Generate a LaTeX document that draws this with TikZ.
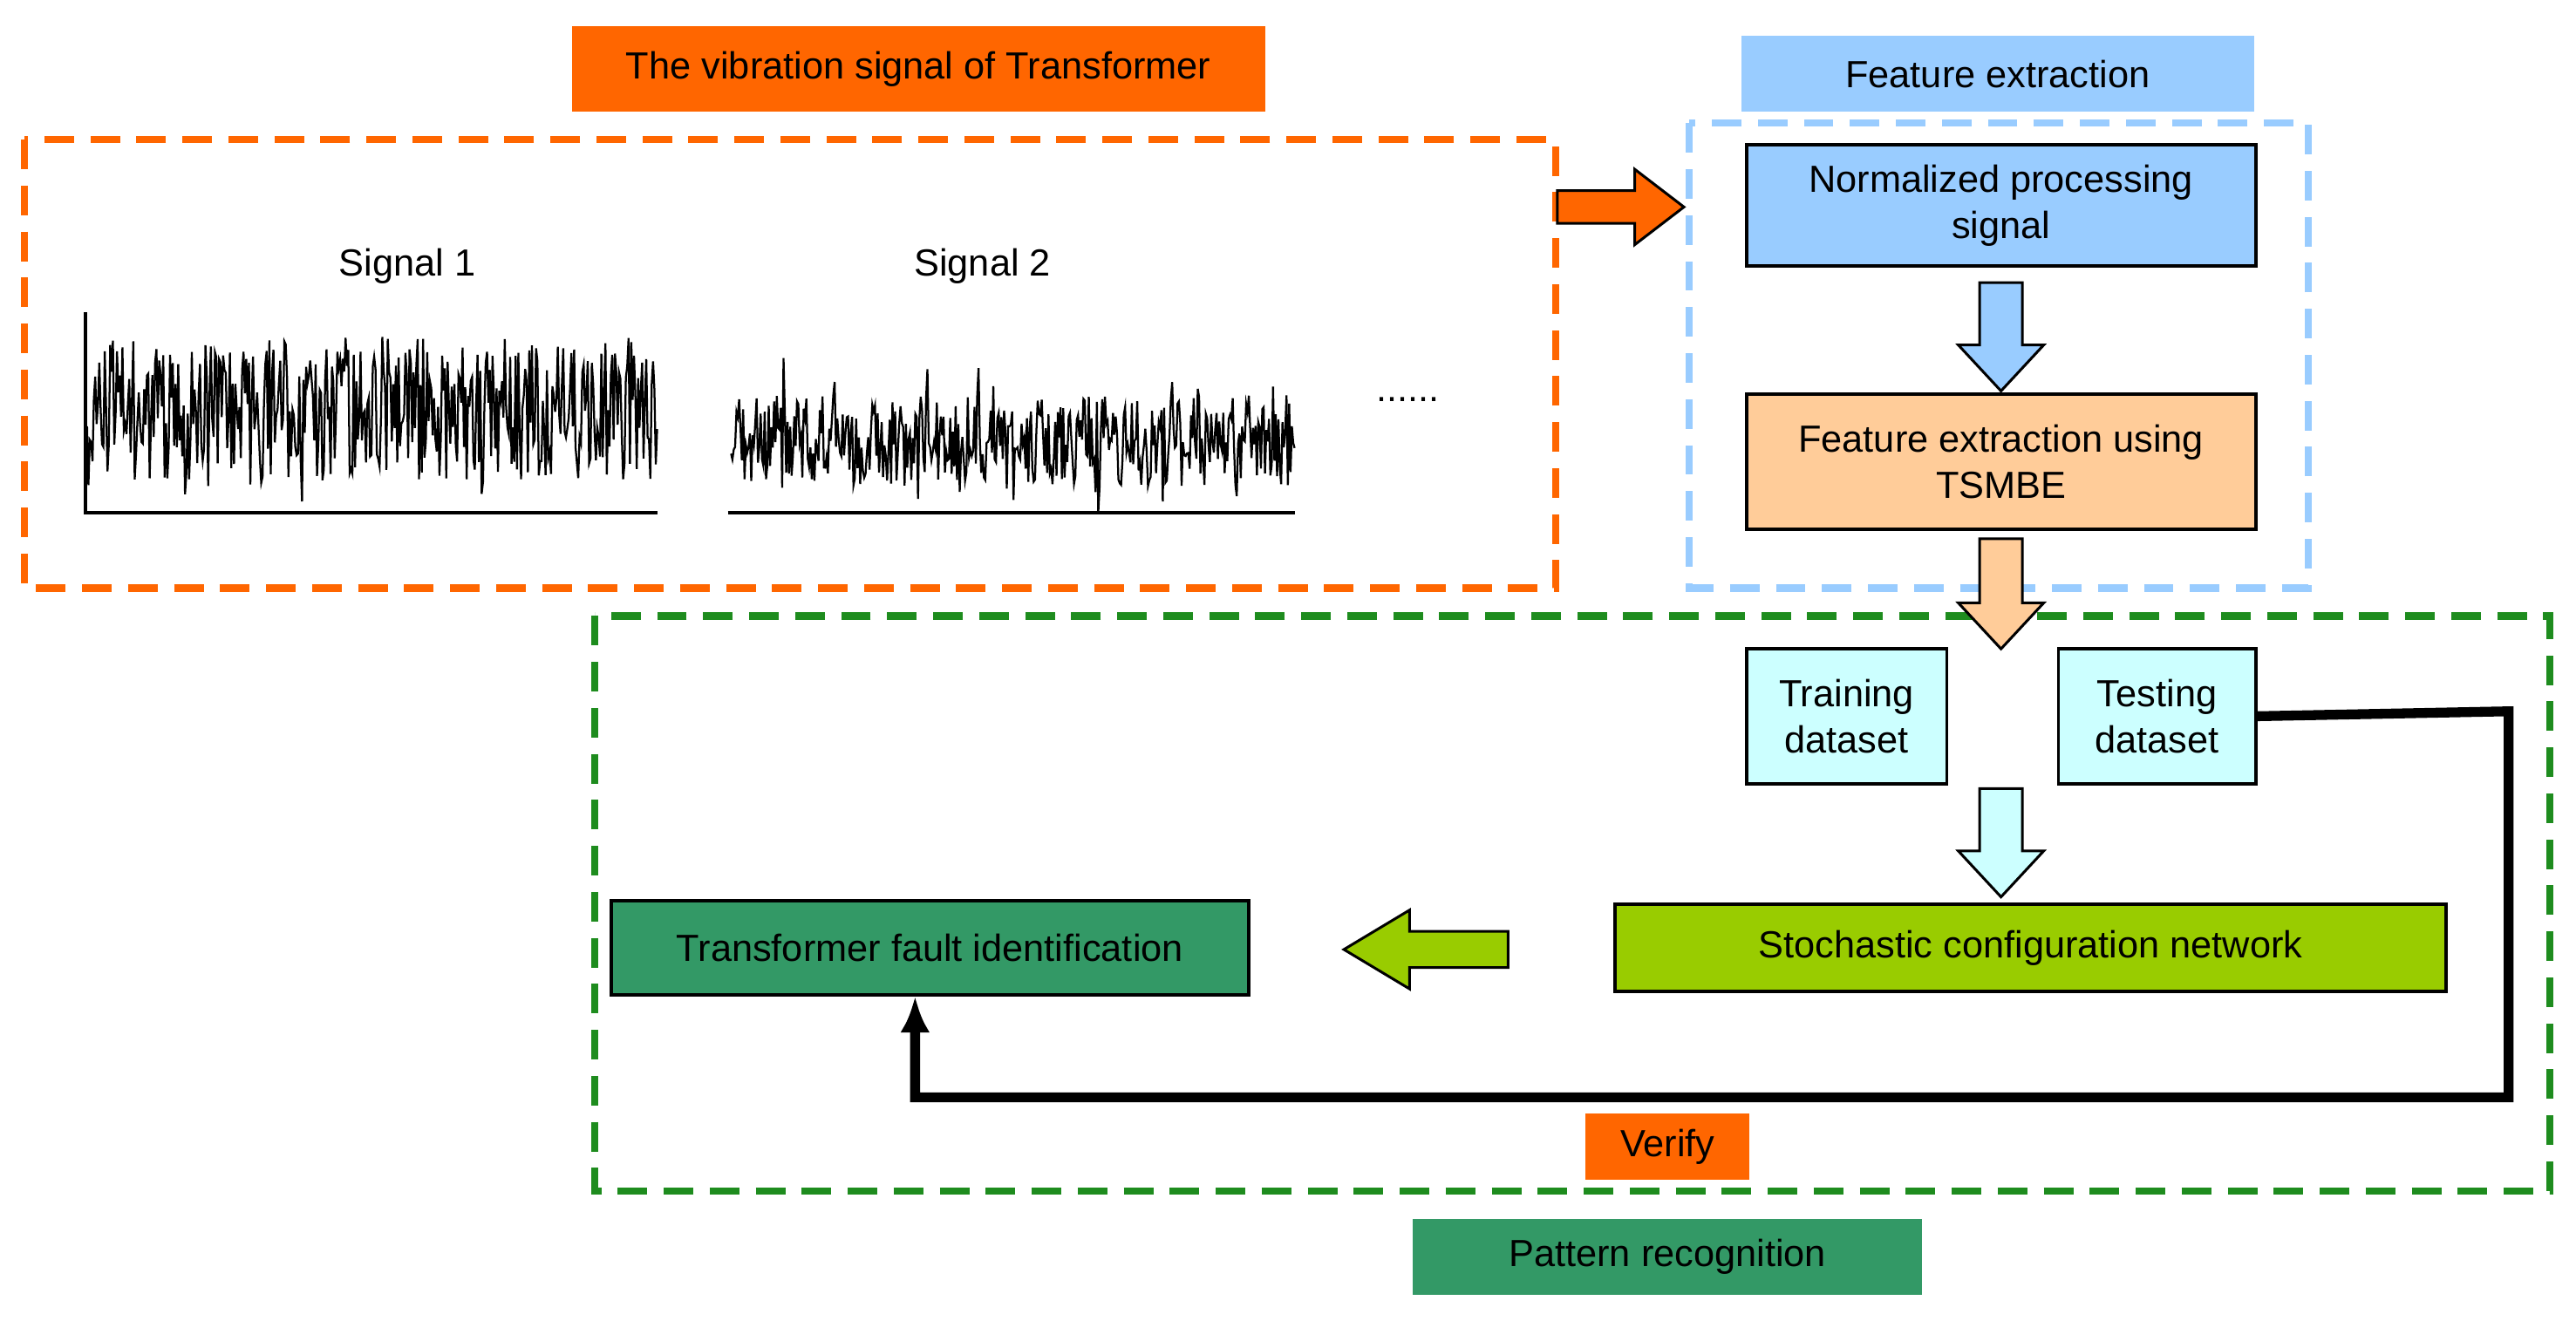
\documentclass[tikz,border=0pt]{standalone}
\usepackage{fontspec}
\setmainfont{Liberation Sans}
\usetikzlibrary{arrows.meta}
\begin{document}
\begin{tikzpicture}[x=0.5pt,y=-0.5pt,
  lab/.style={draw=none,inner sep=0pt,font=\fontsize{11.5}{14}\selectfont,align=center},
  box/.style={draw=black,line width=1pt,inner sep=0pt,font=\fontsize{11.5}{14}\selectfont,align=center},
  dbox/.style={line width=2.2pt,dash pattern=on 9pt off 5pt},
  barrow/.style={draw=black,line width=0.8pt}]
\definecolor{org}{HTML}{FF6600}
\definecolor{lblue}{HTML}{99CCFF}
\definecolor{peach}{HTML}{FFCC99}
\definecolor{lcyan}{HTML}{CCFFFF}
\definecolor{lime}{HTML}{99CC00}
\definecolor{teal}{HTML}{339966}
\definecolor{dgreen}{HTML}{1E8C1E}
\useasboundingbox (0,0) rectangle (1568,804);
% labels
\node[lab,fill=org,minimum width=211pt,minimum height=26pt] (t1) at (559,42) {The vibration signal of Transformer};
\node[lab,fill=lblue,minimum width=156pt,minimum height=23pt] (t2) at (1216,45) {Feature extraction};
\node[lab,fill=org,minimum width=50pt,minimum height=20pt] (t3) at (1015,698) {Verify};
\node[lab,fill=teal,minimum width=155pt,minimum height=23pt] (t4) at (1015,765) {Pattern recognition};
% dashed regions
\draw[dbox,draw=org] (15,85) rectangle (947,358);
\draw[dbox,draw=lblue] (1028,75) rectangle (1405,358);
\draw[dbox,draw=dgreen] (362,375) rectangle (1552,725);
% signals
\node[lab] (s1) at (248,162) {Signal 1};
\node[lab] (s2) at (598,162) {Signal 2};
\node[lab] (dots) at (857,243) {......};
\pgfmathsetseed{7}
\draw[line width=0.6pt] plot[domain=53:400,samples=420] (\x,{250+45*rand+15*rand^9});
\draw[line width=1pt] (52,190) -- (52,312) -- (400,312);
\draw[line width=0.6pt] plot[domain=445:788,samples=420] (\x,{268+28*rand+30*(rand)^9});
\draw[line width=1pt] (443,312) -- (788,312);
% boxes
\node[box,fill=lblue,minimum width=155pt,minimum height=37pt] (n1) at (1218,125) {Normalized processing\\signal};
\node[box,fill=peach,minimum width=155pt,minimum height=41pt] (n2) at (1218,281) {Feature extraction using\\TSMBE};
\node[box,fill=lcyan,minimum width=61pt,minimum height=41pt] (tr) at (1124,436) {Training\\dataset};
\node[box,fill=lcyan,minimum width=60pt,minimum height=41pt] (te) at (1313,436) {Testing\\dataset};
\node[box,fill=lime,minimum width=253pt,minimum height=26.5pt] (scn) at (1236,577) {Stochastic configuration network};
\node[box,fill=teal,minimum width=194pt,minimum height=28.5pt] (tf) at (566,577) {Transformer fault identification};
% block arrows
\draw[barrow,fill=org] (948,116)--(995,116)--(995,103)--(1025,126)--(995,149)--(995,136)--(948,136)--cycle;
\draw[barrow,fill=lblue] (1205,172)--(1231,172)--(1231,210)--(1244,210)--(1218,238)--(1192,210)--(1205,210)--cycle;
\draw[barrow,fill=peach] (1205,328)--(1231,328)--(1231,367)--(1244,367)--(1218,395)--(1192,367)--(1205,367)--cycle;
\draw[barrow,fill=lcyan] (1205,480)--(1231,480)--(1231,518)--(1244,518)--(1218,546)--(1192,518)--(1205,518)--cycle;
\draw[barrow,fill=lime] (918,567)--(858,567)--(858,554)--(818,578)--(858,602)--(858,589)--(918,589)--cycle;
% verify connector
\coordinate (c1) at (1527,433);
\coordinate (c2) at (1527,668);
\coordinate (c3) at (557,668);
\draw[line width=3pt,-{Latex[length=11pt,width=9pt]}] (te.east) -- (c1) -- (c2) -- (c3) -- (tf.south -| c3);
\end{tikzpicture}
\end{document}
